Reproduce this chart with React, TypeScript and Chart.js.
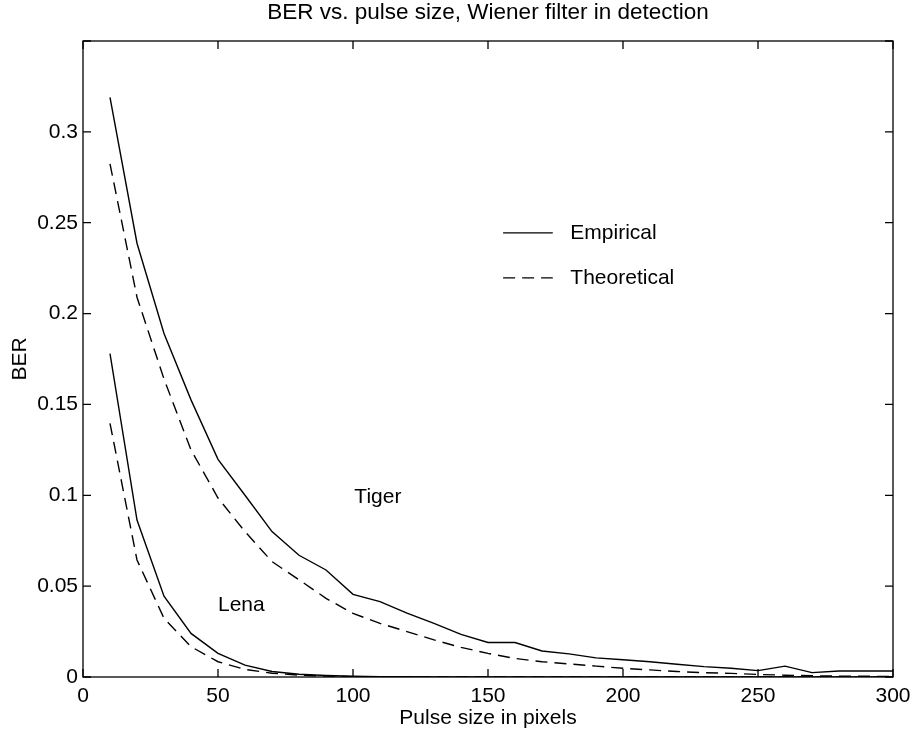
import React, { useEffect, useRef } from "react";
import { Chart, registerables } from "chart.js";

Chart.register(...registerables);

const chartTitle = "BER vs. pulse size, Wiener filter in detection";
const xAxisTitle = "Pulse size in pixels";
const yAxisTitle = "BER";

const pulseSizes = [
  10, 20, 30, 40, 50, 60, 70, 80, 90, 100,
  110, 120, 130, 140, 150, 160, 170, 180, 190, 200,
  210, 220, 230, 240, 250, 260, 270, 280, 290, 300,
];

const tigerEmpirical = [
  0.319, 0.2387, 0.189, 0.1525, 0.1198, 0.1, 0.08, 0.067, 0.0589, 0.0455,
  0.0415, 0.0352, 0.0295, 0.0235, 0.019, 0.019, 0.0143, 0.0127, 0.0105, 0.0095,
  0.0084, 0.007, 0.0057, 0.0048, 0.0035, 0.006, 0.0024, 0.0033, 0.0033, 0.0033,
];

const tigerTheoretical = [
  0.2824, 0.209, 0.164, 0.125, 0.0985, 0.08, 0.0635, 0.0535, 0.0433, 0.035,
  0.0295, 0.025, 0.0204, 0.0163, 0.013, 0.0102, 0.0084, 0.0072, 0.006, 0.0048,
  0.0039, 0.003, 0.0024, 0.002, 0.0014, 0.001, 0.0007, 0.0005, 0.0004, 0.0003,
];

const lenaEmpirical = [
  0.178, 0.0864, 0.0445, 0.024, 0.013, 0.0065, 0.003, 0.0015, 0.0008, 0.0004,
  0.0002, 0.0001, 0, 0, 0, 0, 0, 0, 0, 0,
  0, 0, 0, 0, 0, 0, 0, 0, 0, 0,
];

const lenaTheoretical = [
  0.1396, 0.0644, 0.0323, 0.0167, 0.0084, 0.0042, 0.0021, 0.001, 0.0005, 0.0002,
  0.0001, 0, 0, 0, 0, 0, 0, 0, 0, 0,
  0, 0, 0, 0, 0, 0, 0, 0, 0, 0,
];

const xTickValues = [0, 50, 100, 150, 200, 250, 300];
const yTickLabels = ["0", "0.05", "0.1", "0.15", "0.2", "0.25", "0.3", ""];

const legendLabels = ["Empirical", "Theoretical"];
const curveLabels = [
  { text: "Tiger", x: 100.5, y: 0.0987 },
  { text: "Lena", x: 50, y: 0.0393 },
];

const FONT = "Liberation Sans, Arial, Helvetica, sans-serif";
const FS = 21;
const TITLE_FS = 22.5;
const DASH = [12, 7];

const toPoints = (ys: number[]) => pulseSizes.map((x, i) => ({ x, y: ys[i] }));

const matlabPlugin = {
  id: "matlabDecor",
  afterDraw(chart: any) {
    const { ctx, chartArea } = chart;
    const xs = chart.scales.x;
    const ys = chart.scales.y;
    const { left, right, top, bottom } = chartArea;
    ctx.save();
    ctx.strokeStyle = "#000";
    ctx.lineWidth = 1.3;
    ctx.setLineDash([]);
    ctx.strokeRect(left, top, right - left, bottom - top);
    const tl = 8;
    ctx.beginPath();
    xs.ticks.forEach((t: any) => {
      const px = xs.getPixelForValue(t.value);
      ctx.moveTo(px, bottom);
      ctx.lineTo(px, bottom - tl);
      ctx.moveTo(px, top);
      ctx.lineTo(px, top + tl);
    });
    ys.ticks.forEach((t: any) => {
      const py = ys.getPixelForValue(t.value);
      ctx.moveTo(left, py);
      ctx.lineTo(left + tl, py);
      ctx.moveTo(right, py);
      ctx.lineTo(right - tl, py);
    });
    ctx.stroke();

    // title
    ctx.fillStyle = "#000";
    ctx.font = `${TITLE_FS}px ${FONT}`;
    ctx.textAlign = "center";
    ctx.textBaseline = "middle";
    ctx.fillText(chartTitle, (left + right) / 2, top - 28);

    // curve labels
    ctx.font = `${FS}px ${FONT}`;
    ctx.textAlign = "left";
    curveLabels.forEach((c) => {
      ctx.fillText(c.text, xs.getPixelForValue(c.x), ys.getPixelForValue(c.y));
    });

    // legend
    const lx0 = xs.getPixelForValue(155.6);
    const lx1 = xs.getPixelForValue(174);
    const tx = xs.getPixelForValue(180.5);
    const rows = [0.2444, 0.2196];
    legendLabels.forEach((lab, i) => {
      const py = ys.getPixelForValue(rows[i]);
      ctx.beginPath();
      ctx.setLineDash(i === 0 ? [] : DASH);
      ctx.moveTo(lx0, py);
      ctx.lineTo(lx1, py);
      ctx.stroke();
      ctx.setLineDash([]);
      ctx.fillText(lab, tx, py);
    });
    ctx.restore();
  },
};

export default function App() {
  const ref = useRef<HTMLCanvasElement | null>(null);
  useEffect(() => {
    if (!ref.current) return;
    Chart.defaults.font.family = FONT;
    Chart.defaults.color = "#000";
    const line = (data: number[], dashed: boolean) => ({
      data: toPoints(data),
      borderColor: "#000",
      backgroundColor: "#000",
      borderWidth: 1.4,
      borderDash: dashed ? DASH : [],
      pointRadius: 0,
      tension: 0,
      fill: false,
    });
    const chart = new Chart(ref.current, {
      type: "line",
      data: {
        datasets: [
          { label: "Tiger empirical", ...line(tigerEmpirical, false) },
          { label: "Tiger theoretical", ...line(tigerTheoretical, true) },
          { label: "Lena empirical", ...line(lenaEmpirical, false) },
          { label: "Lena theoretical", ...line(lenaTheoretical, true) },
        ],
      },
      options: {
        responsive: false,
        animation: false,
        layout: { padding: { top: 41, right: 19, left: 0, bottom: 0 } },
        plugins: {
          legend: { display: false },
          title: { display: false },
          tooltip: { enabled: false },
        },
        scales: {
          x: {
            type: "linear",
            min: 0,
            max: 300,
            afterFit: (s: any) => {
              s.height = 55;
              s.paddingLeft = 0;
              s.paddingRight = 0;
            },
            afterBuildTicks: (s: any) => {
              s.ticks = xTickValues.map((v) => ({ value: v }));
            },
            grid: { display: false, drawTicks: false },
            border: { display: false },
            ticks: {
              font: { size: FS },
              padding: 7,
              maxRotation: 0,
              callback: (v: any) => String(v),
            },
            title: {
              display: true,
              text: xAxisTitle,
              font: { size: FS },
              padding: { top: 0, bottom: 1 },
            },
          },
          y: {
            type: "linear",
            min: 0,
            max: 0.35,
            afterFit: (s: any) => {
              s.width = 83;
              s.paddingTop = 0;
              s.paddingBottom = 0;
            },
            afterBuildTicks: (s: any) => {
              s.ticks = yTickLabels.map((_, i) => ({ value: i * 0.05 }));
            },
            grid: { display: false, drawTicks: false },
            border: { display: false },
            ticks: {
              font: { size: FS },
              padding: 5,
              callback: (_v: any, i: number) => yTickLabels[i],
            },
            title: {
              display: true,
              text: yAxisTitle,
              font: { size: FS },
              padding: { top: 8, bottom: 0 },
            },
          },
        },
      },
      plugins: [matlabPlugin],
    });
    return () => chart.destroy();
  }, []);
  return (
    <div style={{ position: "absolute", left: 0, top: 0, width: 912, height: 732, background: "#fff" }}>
      <canvas ref={ref} width={912} height={732} style={{ width: 912, height: 732, display: "block" }} />
    </div>
  );
}
